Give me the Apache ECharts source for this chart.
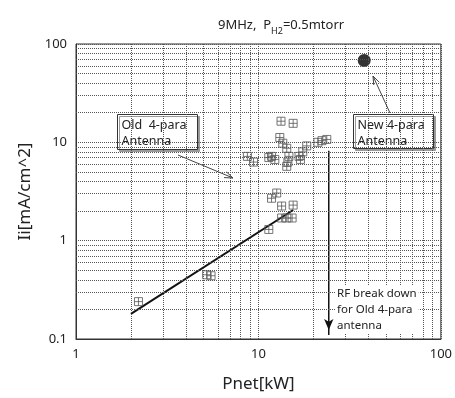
<!DOCTYPE html>
<html>
<head>
<meta charset="utf-8">
<script src="https://cdn.jsdelivr.net/npm/echarts@6/dist/echarts.min.js"></script>
<style>
  html, body { margin: 0; padding: 0; background: #fff; }
  #chart { width: 455px; height: 398px; }
</style>
</head>
<body>
<div id="chart"></div>
<script>
  // grid values between the decades
  const xMinor = [2, 3, 4, 5, 6, 7, 8, 9, 20, 30, 40, 50, 60, 70, 80, 90]
  const yMinor = [0.2, 0.3, 0.4, 0.5, 0.6, 0.7, 0.8, 0.9, 2, 3, 4, 5, 6, 7, 8, 9, 20, 30, 40, 50, 60, 70, 80, 90]

  // Old 4-para antenna [Pnet kW, Ii mA/cm^2]
  const oldAntenna = [
    [2.2, 0.24], [5.2, 0.45], [5.5, 0.44],
    [11.4, 1.3], [11.8, 2.7], [12.6, 3.05], [13.4, 2.25], [15.5, 2.3],
    [13.4, 1.7], [14.3, 1.7], [15.3, 1.7],
    [8.7, 7.2], [9.4, 6.3], [11.8, 7.2], [11.4, 7.0], [12.3, 6.7],
    [13.3, 16.4], [15.5, 15.6], [13.1, 11.2], [13.6, 9.8], [14.3, 8.7],
    [14.7, 7.2], [14.5, 6.3], [14.3, 5.7], [16.7, 7.2], [17.0, 6.7],
    [17.5, 8.0], [18.4, 9.2], [21.2, 10.0], [22.3, 10.4], [23.7, 10.7]
  ]
  // New 4-para antenna
  const newAntenna = [[38, 68]]
  // fitted line through the low power points
  const fitLine = [[2, 0.18], [15.5, 2.05]]
  // RF break down limit for old antenna
  const rfBreak = [[24.3, 8.2], [24.3, 0.11]]

  const gridStyle = { type: 'dotted', color: '#555', width: 1 }

  function arrow(x1, y1, x2, y2) {
    const a = Math.atan2(y2 - y1, x2 - x1)
    const L = 9, w = 0.35
    return [
      { type: 'line', shape: { x1: x1, y1: y1, x2: x2, y2: y2 }, style: { stroke: '#444', lineWidth: 1 } },
      { type: 'polyline', shape: { points: [
        [x2 - L * Math.cos(a - w), y2 - L * Math.sin(a - w)], [x2, y2],
        [x2 - L * Math.cos(a + w), y2 - L * Math.sin(a + w)]
      ] }, style: { stroke: '#444', lineWidth: 1, fill: null } }
    ]
  }

  function box(x, y, w, h, lines) {
    return {
      type: 'group', left: x, top: y, z: 10,
      children: [
        { type: 'rect', shape: { x: 0, y: 0, width: w, height: h },
          style: { fill: '#fff', stroke: '#333', lineWidth: 1, shadowColor: '#999', shadowOffsetX: 2, shadowOffsetY: 2 } },
        { type: 'text', x: 4, y: 3,
          style: { text: lines.join('\n'), font: '12.5px "Noto Sans"', fill: '#222', lineHeight: 16 } }
      ]
    }
  }

  const chart = echarts.init(document.getElementById('chart'))
  chart.setOption({
    animation: false,
    textStyle: { fontFamily: 'Noto Sans' },
    title: {
      text: '9MHz,  P{sub|H2}=0.5mtorr',
      left: 213, top: 10,
      textStyle: {
        fontSize: 13, fontWeight: 'normal', color: '#222',
        rich: { sub: { fontSize: 9, padding: [12, 0, 0, 0], color: '#222' } }
      }
    },
    grid: { left: 76, right: 14, top: 44, bottom: 45, show: true, borderColor: '#333', borderWidth: 1 },
    xAxis: {
      type: 'log', logBase: 10, min: 1, max: 100,
      name: 'Pnet[kW]', nameLocation: 'middle', nameGap: 37,
      nameTextStyle: { fontSize: 17, color: '#222' },
      axisLine: { lineStyle: { color: '#333' } },
      axisTick: { show: false },
      axisLabel: { fontSize: 13, color: '#222', margin: 9 },
      splitLine: { show: true, lineStyle: gridStyle }
    },
    yAxis: {
      type: 'log', logBase: 10, min: 0.1, max: 100,
      name: 'Ii[mA/cm^2]', nameLocation: 'middle', nameGap: 41,
      nameTextStyle: { fontSize: 17, color: '#222' },
      axisLine: { show: true, lineStyle: { color: '#333' } },
      axisTick: { show: false },
      axisLabel: { fontSize: 13, color: '#222', margin: 9 },
      splitLine: { show: true, lineStyle: gridStyle }
    },
    series: [
      {
        type: 'line', data: [], silent: true, z: 1,
        markLine: {
          silent: true, symbol: 'none', label: { show: false },
          lineStyle: gridStyle,
          data: xMinor.map(v => ({ xAxis: v })).concat(yMinor.map(v => ({ yAxis: v })))
        }
      },
      {
        type: 'line', data: fitLine, showSymbol: false, z: 3,
        lineStyle: { color: '#111', width: 2 }
      },
      {
        type: 'line', data: rfBreak, showSymbol: false, z: 3,
        lineStyle: { color: '#111', width: 1.5 },
        markPoint: {
          symbol: 'arrow', symbolSize: [7, 11], symbolRotate: 180,
          symbolOffset: [0, -5],
          itemStyle: { color: '#111' }, label: { show: false },
          data: [{ coord: rfBreak[1] }]
        }
      },
      {
        type: 'scatter', data: oldAntenna, z: 4,
        symbol: 'path://M0,0L10,0L10,10L0,10Z M5,0L5,10 M0,5L10,5',
        symbolSize: 8,
        itemStyle: { color: 'rgba(255,255,255,0)', borderColor: '#555', borderWidth: 1 }
      },
      {
        type: 'scatter', data: newAntenna, z: 4,
        symbol: 'circle', symbolSize: 13,
        itemStyle: { color: '#000' }
      }
    ],
    graphic: [
      box(117, 114, 80, 35, ['Old  4-para', 'Antenna']),
      box(353, 114, 80, 34, ['New 4-para', 'Antenna'])
    ].concat(arrow(178, 155, 233, 178), arrow(390, 113, 373, 76), [
      { type: 'text', left: 335, top: 286, z: 10,
        style: { text: 'RF break down\nfor Old 4-para\nantenna', font: '11.5px "Noto Sans"', fill: '#222',
          lineHeight: 16, backgroundColor: '#fff', padding: [0, 2, 0, 2] } }
    ])
  })
</script>
</body>
</html>
